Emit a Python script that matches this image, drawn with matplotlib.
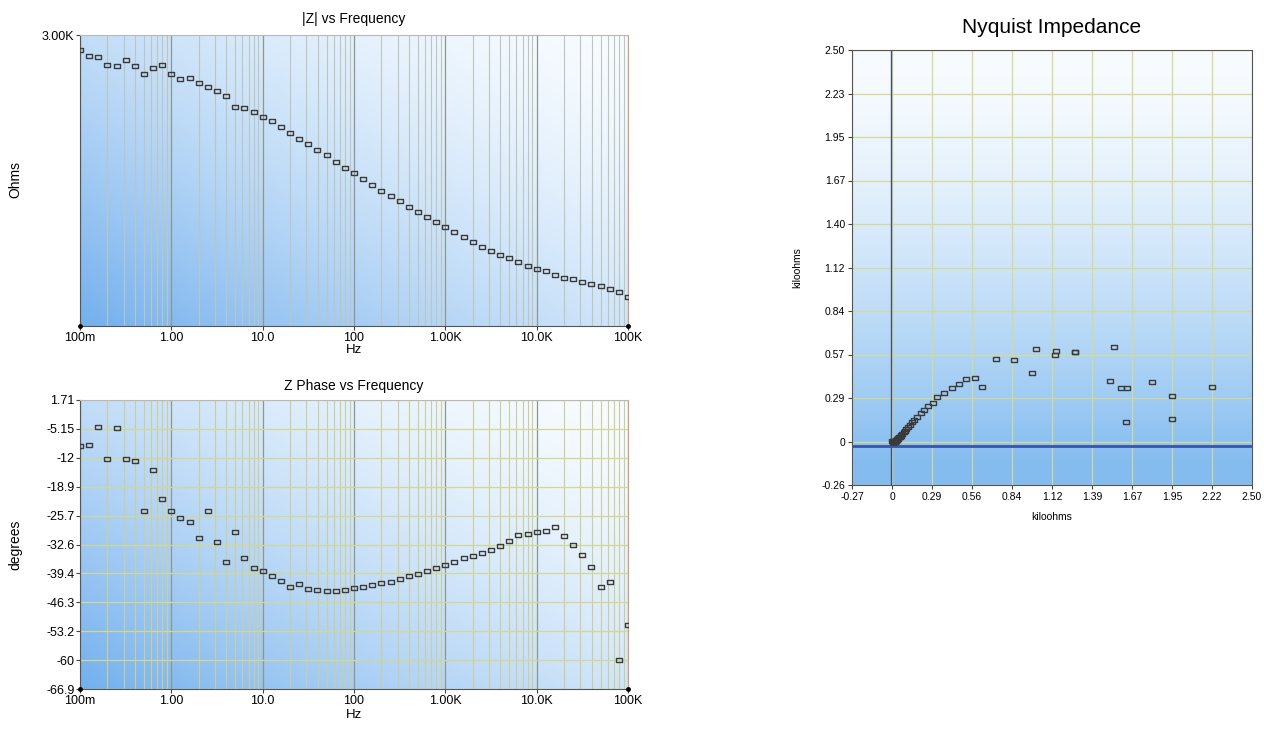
import numpy as np
import matplotlib
matplotlib.use("Agg")
import matplotlib.pyplot as plt
from matplotlib.ticker import LogLocator, NullLocator, NullFormatter

plt.rcParams['font.family'] = ['Liberation Sans Narrow', 'Liberation Sans', 'DejaVu Sans']

# frequencies of the sweep (Hz), 10 points per decade
freq_hz = [0.1, 0.1259, 0.1585, 0.1995, 0.2512, 0.3162, 0.3981, 0.5012, 0.631, 0.7943,
           1.0, 1.259, 1.585, 1.995, 2.512, 3.162, 3.981, 5.012, 6.31, 7.943,
           10, 12.59, 15.85, 19.95, 25.12, 31.62, 39.81, 50.12, 63.1, 79.43,
           100, 125.9, 158.5, 199.5, 251.2, 316.2, 398.1, 501.2, 631, 794.3,
           1000, 1259, 1585, 1995, 2512, 3162, 3981, 5012, 6310, 7943,
           10000, 12590, 15850, 19950, 25120, 31620, 39810, 50120, 63100, 79430,
           100000]

# |Z| in ohms
z_mag = [2250, 1973, 1951, 1672, 1635, 1853, 1635, 1402, 1571, 1663,
         1402, 1265, 1287, 1168, 1078, 1006, 903, 727, 719, 664,
         603, 553, 490, 438, 391, 355, 313, 286, 249, 222,
         202, 177, 160, 142, 129, 115, 103, 93.8, 84.7, 76.8,
         69.3, 62.6, 56.8, 51.6, 47.4, 43.7, 40.1, 37.9, 34.8, 32.5,
         30.3, 29.2, 27.2, 25.7, 24.9, 23.9, 22.7, 21.8, 20.5, 19.4,
         17.7]

# phase in degrees
z_phase = [-9.3, -8.95, -4.76, -12.34, -4.92, -12.34, -12.66, -24.7, -14.8, -21.7,
           -24.7, -26.4, -27.3, -31.0, -24.7, -31.9, -36.7, -29.7, -35.7, -38.2,
           -39.0, -40.1, -41.2, -42.7, -41.9, -43.1, -43.4, -43.6, -43.6, -43.5,
           -43.0, -42.7, -42.2, -41.8, -41.4, -40.8, -40.1, -39.6, -38.9, -38.2,
           -37.4, -36.7, -35.9, -35.4, -34.6, -33.8, -32.9, -31.7, -30.3, -30.0,
           -29.6, -29.4, -28.4, -30.6, -32.6, -35.2, -37.9, -42.7, -41.6, -60.0,
           -51.6]

freq_ticks = [0.1, 1, 10, 100, 1000, 10000, 100000]
freq_labels = ["100m", "1.00", "10.0", "100", "1.00K", "10.0K", "100K"]
phase_labels = ["1.71", "-5.15", "-12", "-18.9", "-25.7", "-32.6", "-39.4",
                "-46.3", "-53.2", "-60", "-66.9"]
nyq_x_labels = ["-0.27", "0", "0.29", "0.56", "0.84", "1.12", "1.39", "1.67", "1.95", "2.22", "2.50"]
nyq_y_labels = ["-0.26", "0", "0.29", "0.57", "0.84", "1.12", "1.40", "1.67", "1.95", "2.23", "2.50"]

RECT = [(-1, -0.6), (1, -0.6), (1, 0.6), (-1, 0.6), (-1, -0.6)]
MK = dict(linestyle='none', marker=RECT, markersize=4.5, markerfacecolor='none',
          markeredgecolor='#3a3a3a', markeredgewidth=1.0, zorder=3)


def gradient(ax, kind):
    n = 200
    u, v = np.meshgrid(np.linspace(0, 1, n), np.linspace(0, 1, n))
    if kind == 'diag':
        t = (1 - u) * 0.55 + (1 - v) * 0.45
        t = np.clip(t, 0, 1) ** 1.5
        bot = np.array([0.45, 0.69, 0.93])
    else:
        t = (1 - v) * 1.05
        t = np.clip(t, 0, 1) ** 1.5
        bot = np.array([0.52, 0.74, 0.94])
    top = np.array([0.975, 0.988, 1.0])
    img = top + (bot - top) * t[..., None]
    ax.imshow(img, extent=[0, 1, 0, 1], transform=ax.transAxes, origin='lower',
              aspect='auto', zorder=0, interpolation='bilinear')


def style_freq_axis(ax, minor_color):
    ax.set_xscale('log')
    ax.set_xlim(0.1, 1e5)
    ax.set_xticks(freq_ticks)
    ax.set_xticklabels(freq_labels)
    ax.xaxis.set_minor_locator(LogLocator(base=10, subs=range(2, 10)))
    ax.xaxis.set_minor_formatter(NullFormatter())
    ax.grid(which='major', axis='x', color='#8f968c', lw=0.9, zorder=1)
    ax.grid(which='minor', axis='x', color=minor_color, lw=0.8, zorder=1)
    ax.tick_params(axis='both', which='major', labelsize=9, length=3, color='#444444', pad=1)
    ax.tick_params(axis='x', which='minor', length=0)
    ax.spines['left'].set_color('#555555')
    ax.spines['bottom'].set_color('#555555')
    ax.spines['top'].set_color('#b8b8b8')
    ax.spines['right'].set_color('#d49a80')
    ax.plot([0, 1], [0, 0], 'o', color='black', ms=2.5, transform=ax.transAxes, clip_on=False, zorder=5)


fig = plt.figure(figsize=(12.64, 7.30), dpi=100)

# |Z| vs frequency
ax1 = fig.add_axes([80 / 1264, 1 - 326 / 730, 548 / 1264, 291 / 730])
gradient(ax1, 'diag')
ax1.plot(freq_hz, z_mag, **MK)
ax1.set_yscale('log')
ax1.set_ylim(10, 3000)
ax1.set_yticks([3000])
ax1.set_yticklabels(["3.00K"])
ax1.yaxis.set_minor_locator(NullLocator())
style_freq_axis(ax1, '#bcc6c0')
ax1.set_title("|Z| vs Frequency", fontsize=10, pad=9)
fig.text(15 / 1264, 1 - 180 / 730, "Ohms", rotation=90, ha='center', va='center', fontsize=10)
fig.text(354 / 1264, 1 - 350 / 730, "Hz", ha='center', va='center', fontsize=9.5)

# phase vs frequency
ax2 = fig.add_axes([80 / 1264, 1 - 689 / 730, 548 / 1264, 289 / 730])
gradient(ax2, 'diag')
ax2.plot(freq_hz, z_phase, **MK)
ax2.set_ylim(-66.9, 1.71)
ax2.set_yticks(np.linspace(1.71, -66.9, len(phase_labels)))
ax2.set_yticklabels(phase_labels)
style_freq_axis(ax2, '#cacd9c')
ax2.grid(which='major', axis='y', color='#d3d78f', lw=0.9, zorder=1)
ax2.set_title("Z Phase vs Frequency", fontsize=10, pad=7)
fig.text(15 / 1264, 1 - 545 / 730, "degrees", rotation=90, ha='center', va='center', fontsize=10)
fig.text(354 / 1264, 1 - 715 / 730, "Hz", ha='center', va='center', fontsize=9.5)

# Nyquist plot (kiloohms), from |Z| and phase
z_re = [m * np.cos(np.radians(p)) / 1000 for m, p in zip(z_mag, z_phase)]
z_im = [-m * np.sin(np.radians(p)) / 1000 for m, p in zip(z_mag, z_phase)]

ax3 = fig.add_axes([852 / 1264, 1 - 485 / 730, 400 / 1264, 435 / 730])
gradient(ax3, 'vert')
ax3.set_xlim(-0.27, 2.50)
ax3.set_ylim(-0.26, 2.50)
ax3.set_xticks(np.linspace(-0.27, 2.50, len(nyq_x_labels)))
ax3.set_xticklabels(nyq_x_labels)
ax3.set_yticks(np.linspace(-0.26, 2.50, len(nyq_y_labels)))
ax3.set_yticklabels(nyq_y_labels)
ax3.grid(True, color='#d4d994', lw=0.9, zorder=1)
ax3.axvline(0, color='#3e4f78', lw=1.0, zorder=2)
ax3.axhline(-0.01, color='#3955a6', lw=2.0, zorder=2)
ax3.plot(z_re, z_im, **MK)
ax3.tick_params(labelsize=7.5, length=3, color='#444444', pad=2)
for s in ax3.spines.values():
    s.set_color('#555555')
ax3.set_title("Nyquist Impedance", fontsize=15, pad=12)
fig.text(1052 / 1264, 1 - 517 / 730, "kiloohms", ha='center', va='center', fontsize=7.5)
fig.text(797 / 1264, 1 - 268 / 730, "kiloohms", rotation=90, ha='center', va='center', fontsize=7.5)

fig.savefig("out.png", dpi=100)
